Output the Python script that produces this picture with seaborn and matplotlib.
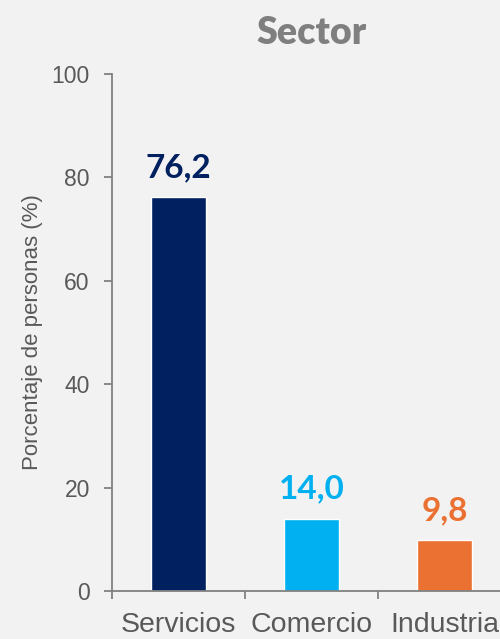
import pandas as pd
import seaborn as sns
import matplotlib.pyplot as plt

sectores = ['Servicios', 'Comercio', 'Industria']
porcentajes = [76.2, 14.0, 9.8]
colores = ['#002060', '#00B0F0', '#EA7131']

df = pd.DataFrame({'sector': sectores, 'pct': porcentajes})

sns.set_style('ticks')
plt.rcParams['font.family'] = ['Liberation Sans', 'DejaVu Sans']
bg = '#F2F2F2'

fig = plt.figure(figsize=(5, 6.39), dpi=100, facecolor=bg)
ax = fig.add_axes([0.224, 0.0751, 0.798, 0.809], facecolor=bg)

sns.barplot(data=df, x='sector', y='pct', hue='sector', palette=colores,
            width=0.41, legend=False, ax=ax, saturation=1)

ax.set_ylim(0, 100)
ax.set_xlim(-0.5, 2.5)
ax.set_yticks([0, 20, 40, 60, 80, 100])
ax.set_xticks([-0.5, 0.5, 1.5, 2.5])
ax.set_xticklabels([])
# category names centred under the bars (ticks sit on the boundaries)
for i, s in enumerate(sectores):
    ax.text(i, -8.0, s, ha='center', va='baseline', fontsize=20.5, color='#595959')

for i, (v, c) in enumerate(zip(porcentajes, colores)):
    ax.annotate(f'{v:.1f}'.replace('.', ','), (i, v), xytext=(0, 11),
                textcoords='offset points', ha='center', va='bottom',
                fontsize=24, fontweight='bold', color=c, family='Lato')

sns.despine(ax=ax)
for sp in ['left', 'bottom']:
    ax.spines[sp].set_color('#808080')
    ax.spines[sp].set_linewidth(1.3)
ax.tick_params(axis='both', colors='#808080', length=6, width=1.3,
               labelsize=16.5, labelcolor='#595959')
ax.tick_params(axis='y', pad=10)
ax.set_xlabel('')
ax.set_ylabel('Porcentaje de personas (%)', fontsize=16, color='#595959', labelpad=6)
ax.set_title('Sector', fontsize=27, fontweight='heavy', color='#7F7F7F',
             family='Lato', pad=22)

fig.savefig('out.png', dpi=100, facecolor=bg)
